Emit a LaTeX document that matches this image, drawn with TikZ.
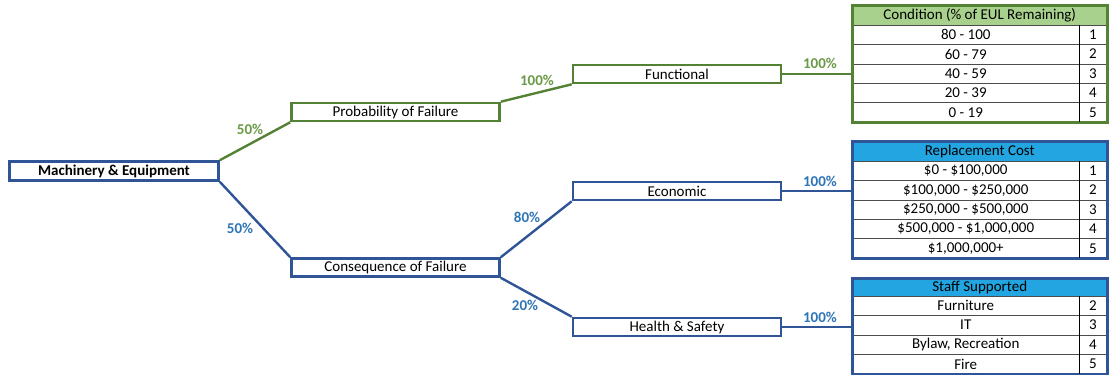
\documentclass[tikz,border=0pt]{standalone}
\usepackage{fontspec}
\setmainfont{Carlito}
\usetikzlibrary{fit}
\definecolor{grn}{HTML}{548235}
\definecolor{grnlbl}{HTML}{6A9A48}
\definecolor{grnhead}{HTML}{A9D18E}
\definecolor{blu}{HTML}{2F5597}
\definecolor{blulbl}{HTML}{2E75B6}
\definecolor{bluhead}{HTML}{22A5E0}
\tikzset{
  box/.style={draw,line width=2.6pt,fill=white,minimum width=208pt,minimum height=18pt,inner sep=0pt,font=\fontsize{15}{17}\selectfont},
  link/.style={line width=2.4pt},
  pct/.style={font=\bfseries\fontsize{15}{17}\selectfont},
  head/.style={draw=black!70,line width=0.6pt,minimum width=254.5pt,minimum height=19pt,inner sep=0pt,font=\fontsize{15}{17}\selectfont},
  rowcell/.style={draw=black!70,line width=0.6pt,fill=white,minimum width=226.5pt,minimum height=19.4pt,inner sep=0pt,font=\fontsize{15}{17}\selectfont},
  numcell/.style={draw=black!70,line width=0.6pt,fill=white,minimum width=28pt,minimum height=19.4pt,inner sep=0pt,font=\fontsize{15}{17}\selectfont},
  frame/.style={draw,line width=2.6pt,inner sep=0pt}
}
\begin{document}
\begin{tikzpicture}[x=1pt,y=-1pt]
\path[use as bounding box] (0,0) rectangle (1115,375);

\node[box,draw=blu,font=\bfseries\fontsize{15}{17}\selectfont,minimum width=209pt,minimum height=19pt] (mach) at (114,171) {Machinery \& Equipment};
\node[box,draw=grn] (prob) at (395.5,112) {Probability of Failure};
\node[box,draw=blu] (cons) at (395.5,267.5) {Consequence of Failure};
\node[box,draw=grn] (func) at (677,74) {Functional};
\node[box,draw=blu] (econ) at (677,191) {Economic};
\node[box,draw=blu] (hs) at (677,327) {Health \& Safety};

\node[head,fill=grnhead] (condhead) at (979.75,15.5) {Condition (\% of EUL Remaining)};
\foreach \t/\v [count=\i] in {80 - 100/1,60 - 79/2,40 - 59/3,20 - 39/4,0 - 19/5}{
  \node[rowcell] (cond\i) at (965.75,25+19.4*\i-9.7) {\t};
  \node[numcell] (condv\i) at (1093,25+19.4*\i-9.7) {\v};
}
\node[frame,draw=grn,fit=(condhead)(cond5)(condv5)] (condtab) {};
\draw[line width=1.2pt] (cond1.north east) -- (cond5.south east);

\node[head,fill=bluhead] (costhead) at (979.75,151.5) {Replacement Cost};
\foreach \t/\v [count=\i] in {{\$0 - \$100,000}/1,{\$100,000 - \$250,000}/2,{\$250,000 - \$500,000}/3,{\$500,000 - \$1,000,000}/4,{\$1,000,000+}/5}{
  \node[rowcell] (cost\i) at (965.75,161+19.4*\i-9.7) {\t};
  \node[numcell] (costv\i) at (1093,161+19.4*\i-9.7) {\v};
}
\node[frame,draw=blu,fit=(costhead)(cost5)(costv5)] (costtab) {};
\draw[line width=1.2pt] (cost1.north east) -- (cost5.south east);

\node[head,fill=bluhead,minimum height=17pt] (staffhead) at (979.75,287.5) {Staff Supported};
\foreach \t/\v [count=\i] in {Furniture/2,IT/3,{Bylaw, Recreation}/4,Fire/5}{
  \node[rowcell] (staff\i) at (965.75,296+19.4*\i-9.7) {\t};
  \node[numcell] (staffv\i) at (1093,296+19.4*\i-9.7) {\v};
}
\node[frame,draw=blu,fit=(staffhead)(staff4)(staffv4)] (stafftab) {};
\draw[line width=1.2pt] (staff1.north east) -- (staff4.south east);

\draw[link,grn] (mach.north east) -- (prob.south west);
\draw[link,blu] (mach.south east) -- (cons.north west);
\draw[link,grn] (prob.north east) -- (func.south west);
\draw[link,blu] (cons.north east) -- (econ.south west);
\draw[link,blu] (cons.south east) -- (hs.north west);
\draw[link,grn] (func.east) -- (func.east -| condtab.west);
\draw[link,blu] (econ.east) -- (econ.east -| costtab.west);
\draw[link,blu] (hs.east) -- (hs.east -| stafftab.west);

\node[pct,text=grnlbl] (p1) at (250,129) {50\%};
\node[pct,text=blulbl] (p2) at (240,228) {50\%};
\node[pct,text=grnlbl] (p3) at (537,80) {100\%};
\node[pct,text=blulbl] (p4) at (527,217) {80\%};
\node[pct,text=blulbl] (p5) at (525,305) {20\%};
\node[pct,text=grnlbl] (p6) at (820,63) {100\%};
\node[pct,text=blulbl] (p7) at (820,181) {100\%};
\node[pct,text=blulbl] (p8) at (820,317) {100\%};
\end{tikzpicture}
\end{document}
